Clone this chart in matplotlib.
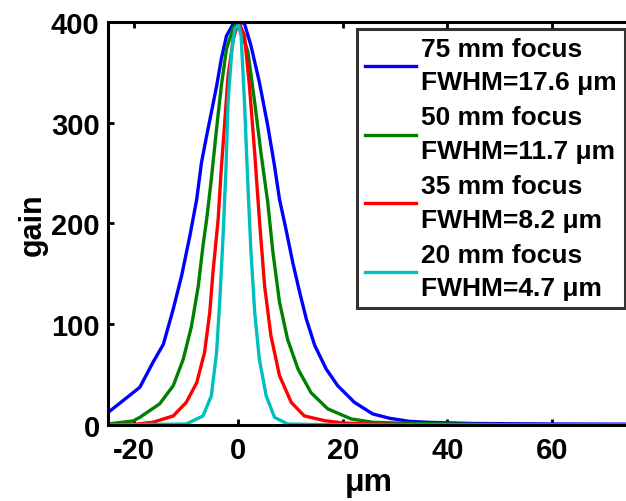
import matplotlib
matplotlib.use("Agg")
import matplotlib.pyplot as plt

plt.rcParams['font.family'] = ['Liberation Sans', 'DejaVu Sans']
plt.rcParams['font.weight'] = 'bold'
plt.rcParams['axes.unicode_minus'] = False

# 75 mm focus
x_blue = [-25, -24.6, -18.9, -16.4, -14.4, -12.5, -10.9, -9.3, -8.0, -7.1, -6.1, -5.2, -4.2, -3.3, -2.3, -1.0, 0,
          1.15, 2.4, 4.0, 5.6, 6.9, 7.85, 9.1, 10.4, 11.7, 13.0, 14.6, 16.8, 19.0, 22.2, 25.7,
          29, 32.8, 36.6, 45, 60, 75]
y_blue = [13, 14, 37.4, 62, 80, 115, 148, 188, 224, 260, 287, 310, 336, 363, 386, 398, 400,
          398, 376, 340, 297, 257, 224, 194, 161, 132, 105, 79, 55.5, 39, 22.5, 11,
          6.6, 3.6, 2.6, 1.5, 1.0, 0.8]
# 50 mm focus
x_green = [-25, -20.2, -18.9, -15.1, -12.5, -10.6, -9.0, -7.7, -6.8, -6.1, -5.2, -4.2, -3.3, -2.3, -1.0, 0,
           1.8, 3.1, 4.3, 5.6, 6.6, 7.85, 9.4, 11.4, 13.9, 17.1, 21.6, 25.7, 30, 40, 48.8, 60, 75]
y_green = [1, 4, 7.6, 21, 39, 65, 98, 138, 178, 204, 244, 294, 336, 373, 394, 400,
           370, 320, 270, 221, 171, 122, 85, 55.5, 32, 16, 6, 2.7, 2, 1, 0.5, 0.3, 0.2]
# 35 mm focus
x_red = [-25, -20.2, -16.4, -12.5, -10.0, -8.0, -6.5, -5.5, -4.9, -3.9, -3.3, -2.6, -2.0, -1.0, 0,
         1.15, 2.1, 3.1, 4.0, 5.0, 6.2, 7.85, 10.1, 12.6, 16.5, 20.0, 25, 34.8, 50, 75]
y_red = [0.3, 0.5, 2.7, 9, 22.5, 42, 72, 112, 151, 204, 254, 303, 346, 383, 400,
         386, 336, 270, 204, 138, 89, 49, 22.5, 9, 4.3, 2, 1, 0.3, 0.1, 0.1]
# 20 mm focus
x_cyan = [-25, -10.0, -6.8, -5.2, -4.2, -3.6, -2.95, -2.4, -2.0, -1.3, -0.7, 0,
          0.5, 1.15, 1.8, 2.4, 3.1, 4.0, 5.3, 6.9, 9.4, 13.9, 30, 75]
y_cyan = [0, 1, 9, 29, 72, 122, 188, 254, 320, 370, 393, 397,
          386, 320, 237, 171, 112, 65, 29, 7.6, 1, 0.5, 0, 0]

labels = ["75 mm focus\nFWHM=17.6 \u03bcm",
          "50 mm focus\nFWHM=11.7 \u03bcm",
          "35 mm focus\nFWHM=8.2 \u03bcm",
          "20 mm focus\nFWHM=4.7 \u03bcm"]
colors = ["#0000ff", "#008000", "#ff0000", "#00bfbf"]

x_ticks = [-20, 0, 20, 40, 60]
y_ticks = [0, 100, 200, 300, 400]

fig = plt.figure(figsize=(6.26, 5.02), dpi=100)
ax = fig.add_axes([108/626, 76/502, 522/626, 403.3/502])

for xs, ys, c, lab in zip([x_blue, x_green, x_red, x_cyan],
                          [y_blue, y_green, y_red, y_cyan], colors, labels):
    ax.plot(xs, ys, color=c, lw=2.4, label=lab, clip_on=True)

ax.set_xlim(-25, 75)
ax.set_ylim(0, 400)
ax.set_xticks(x_ticks)
ax.set_yticks(y_ticks)
ax.tick_params(direction='in', length=4, width=2, top=True, right=False,
               labelsize=21)
ax.tick_params(axis='y', pad=6)
ax.tick_params(axis='x', pad=8)
for lab in ax.get_xticklabels() + ax.get_yticklabels():
    lab.set_fontweight('bold')
for s in ax.spines.values():
    s.set_linewidth(2.2)

ax.set_xlabel("\u03bcm", fontsize=23, fontweight='bold', labelpad=2)
ax.set_ylabel("gain", fontsize=22, fontweight='bold', labelpad=2)

leg = ax.legend(loc='upper right', bbox_to_anchor=(625/626, 1 - 30/502),
                bbox_transform=fig.transFigure,
                prop={'family': 'Liberation Sans', 'weight': 'bold', 'size': 19},
                frameon=True, fancybox=False, edgecolor='black',
                handlelength=1.95, handletextpad=0.2, labelspacing=0.42,
                borderpad=0.3, borderaxespad=0)
leg.get_frame().set_linewidth(2.2)
for t in leg.get_texts():
    t.set_linespacing(1.5)

fig.savefig("out.png", dpi=100)
